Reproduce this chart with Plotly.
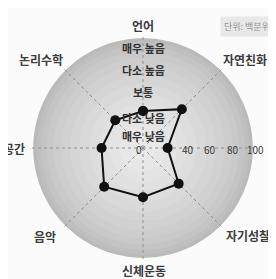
import numpy as np
import plotly.graph_objects as go

# ---- data ----
categories = ["언어", "자연친화", "인간친화", "자기성찰", "신체운동", "음악", "공간", "논리수학"]
values = [33, 49, 22, 45, 44, 49, 37, 35]
level_labels = ["매우 높음", "다소 높음", "보통", "다소 낮음", "매우 낮음"]
radial_ticks = [0, 40, 60, 80, 100]
unit_label = "단위: 백분위"

W, H = 276, 279
CX, CY, RPX = 135, 140, 112  # polar centre/radius in px
RMAX = 100

FONT = "Noto Sans CJK KR"

def px(x):
    return x / W

def py(y):
    return 1 - y / H

dom_x = [px(CX - RPX), px(CX + RPX)]
dom_y = [py(CY + RPX), py(CY - RPX)]

fig = go.Figure()

# gradient disk (background decoration) in polar subplot 1
ring_r = [98, 95, 91, 86, 80, 73, 65, 57, 48, 39, 30, 21, 12]
ring_c = [186, 191, 196, 201, 205, 209, 213, 217, 221, 225, 228, 231, 233]
theta_full = np.linspace(0, 360, 181)
for rr, cc in zip(ring_r, ring_c):
    fig.add_trace(go.Scatterpolar(
        r=[rr] * len(theta_full), theta=theta_full, mode="lines",
        fill="toself", fillcolor=f"rgb({cc},{cc},{cc})",
        line=dict(width=0, color=f"rgb({cc},{cc},{cc})"),
        hoverinfo="skip", showlegend=False, subplot="polar"))

# data polygon in polar subplot 2
fig.add_trace(go.Scatterpolar(
    r=values + values[:1], theta=categories + categories[:1],
    mode="lines+markers",
    line=dict(color="#111111", width=2),
    marker=dict(color="#111111", size=10),
    showlegend=False, subplot="polar2"))

fig.update_layout(
    width=W, height=H,
    margin=dict(l=0, r=0, t=0, b=0),
    paper_bgcolor="#fbfbfb", plot_bgcolor="#fbfbfb",
    font=dict(family=FONT, color="#444444"),
    polar=dict(
        domain=dict(x=dom_x, y=dom_y),
        bgcolor="rgba(0,0,0,0)",
        radialaxis=dict(range=[0, RMAX], visible=False),
        angularaxis=dict(visible=False, direction="clockwise", rotation=90),
    ),
    polar2=dict(
        domain=dict(x=dom_x, y=dom_y),
        bgcolor="rgba(0,0,0,0)",
        radialaxis=dict(range=[0, RMAX], showgrid=False, showline=False,
                        showticklabels=False, ticks=""),
        angularaxis=dict(categoryarray=categories, type="category",
                         direction="clockwise", rotation=90,
                         showline=False, showticklabels=False, ticks="",
                         gridcolor="#8f8f8f", griddash="dot", gridwidth=1),
    ),
)

ann = []
lab_font = dict(size=12, color="#3c3c3c", weight="bold")
cat_pos = {
    "언어": (135, 17),
    "자연친화": (237, 51),
    "자기성찰": (240, 227),
    "신체운동": (136, 262),
    "음악": (37, 228),
    "논리수학": (33, 52),
}
for c in categories:
    if c in cat_pos:
        x, y = cat_pos[c]
        ann.append(dict(x=px(x), y=py(y), text=c, xanchor="center", yanchor="middle",
                        showarrow=False, font=lab_font))
ann.append(dict(x=px(258), y=py(141), text="인간<br>친화", xanchor="left", yanchor="middle",
                showarrow=False, align="left", font=lab_font))
ann.append(dict(x=px(19), y=py(140), text="공간", xanchor="right", yanchor="middle",
                showarrow=False, font=lab_font))

level_y = [40, 62, 84, 110, 128]
for t, y in zip(level_labels, level_y):
    ann.append(dict(x=px(135), y=py(y), text=t, xanchor="center", yanchor="middle",
                    showarrow=False, font=dict(size=11, color="#333333", weight="bold")))

# radial tick labels placed along the 0° radius using the polar scale
for v in radial_ticks:
    xpx = CX + v / RMAX * RPX
    if v == 0:
        xpx -= 4
    ann.append(dict(x=px(xpx), y=py(CY + 1), text=str(v), xanchor="center", yanchor="middle",
                    showarrow=False, font=dict(size=10, color="#3a3a3a")))

ann.append(dict(x=px(266), y=py(19), text=unit_label, xanchor="right", yanchor="middle",
                showarrow=False, bgcolor="#e8e8e8", borderpad=3,
                font=dict(size=9, color="#939393")))

fig.update_layout(annotations=ann)
fig.write_html("out.html")
